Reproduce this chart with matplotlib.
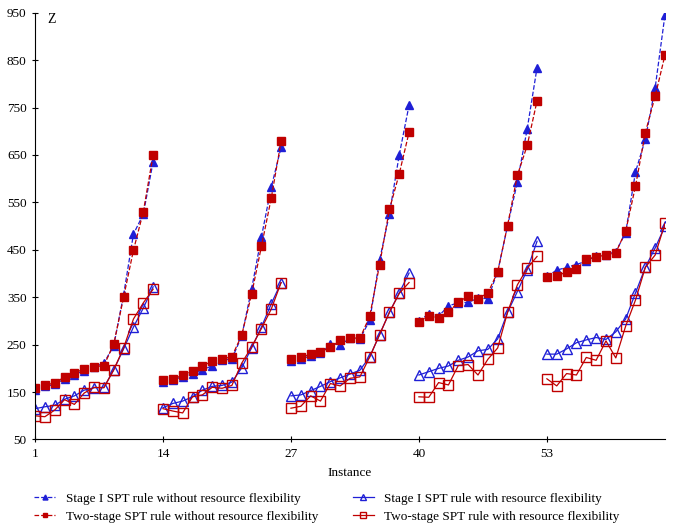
import numpy as np
import matplotlib
matplotlib.use('Agg')
import matplotlib.pyplot as plt

plt.rcParams['font.family'] = ['Liberation Serif', 'DejaVu Serif']

# instancias 1..65, em 5 grupos de 13
instancias = np.arange(1, 66)
grupos = [(1, 13), (14, 26), (27, 39), (40, 52), (53, 65)]

# Stage I SPT rule without resource flexibility
stage1_sem = [155, 162, 166, 178, 187, 195, 203, 211, 248, 355, 483, 525, 636,
              172, 176, 182, 188, 196, 206, 217, 220, 268, 367, 477, 582, 666,
              216, 220, 226, 232, 252, 250, 263, 262, 301, 428, 525, 650, 755,
              300, 315, 310, 332, 338, 339, 348, 347, 404, 500, 593, 705, 834,
              394, 407, 413, 419, 426, 437, 440, 446, 486, 614, 683, 792, 946]

# Two-stage SPT rule without resource flexibility
duas_sem = [159, 165, 169, 182, 190, 199, 203, 206, 251, 350, 449, 530, 650,
            175, 178, 185, 194, 205, 215, 219, 225, 270, 356, 457, 559, 679,
            219, 223, 230, 235, 244, 259, 265, 263, 310, 418, 535, 610, 698,
            297, 311, 306, 318, 340, 352, 347, 359, 403, 501, 607, 670, 764,
            393, 394, 404, 409, 430, 435, 439, 444, 489, 584, 697, 774, 861]

# Stage I SPT rule with resource flexibility
stage1_com = [115, 119, 122, 135, 142, 154, 159, 160, 197, 241, 287, 327, 372,
              117, 126, 131, 140, 154, 162, 164, 171, 201, 243, 287, 336, 381,
              142, 144, 153, 162, 172, 180, 188, 196, 224, 271, 318, 359, 401,
              186, 193, 200, 205, 217, 224, 237, 240, 262, 318, 362, 408, 468,
              230, 230, 241, 254, 260, 265, 261, 277, 304, 359, 413, 454, 500]

# Two-stage SPT rule with resource flexibility
duas_com = [100, 98, 112, 134, 124, 148, 160, 159, 197, 243, 304, 338, 367,
            115, 110, 106, 140, 144, 160, 158, 164, 211, 245, 284, 325, 381,
            116, 120, 142, 131, 168, 163, 179, 182, 224, 271, 318, 358, 381,
            140, 139, 170, 165, 206, 208, 186, 219, 243, 318, 376, 411, 436,
            178, 163, 189, 186, 223, 217, 258, 222, 289, 344, 413, 439, 506]

azul = '#1f1fd6'
vermelho = '#c00000'
fs = 9.5

fig = plt.figure(figsize=(6.77, 5.29), dpi=100)
ax = fig.add_axes([0.0517, 0.1692, 0.9306, 0.8068])

series = [
    (stage1_sem, dict(color=azul, ls='--', marker='^', mfc=azul, mec=azul, ms=6),
     'Stage I SPT rule without resource flexibility'),
    (duas_sem, dict(color=vermelho, ls='--', marker='s', mfc=vermelho, mec=vermelho, ms=6),
     'Two-stage SPT rule without resource flexibility'),
    (stage1_com, dict(color=azul, ls='-', marker='^', mfc='none', mec=azul, ms=6.5),
     'Stage I SPT rule with resource flexibility'),
    (duas_com, dict(color=vermelho, ls='-', marker='s', mfc='none', mec=vermelho, ms=6.5),
     'Two-stage SPT rule with resource flexibility'),
]

handles = []
for valores, estilo, nome in series:
    valores = np.array(valores)
    for k, (a, b) in enumerate(grupos):
        linha, = ax.plot(instancias[a - 1:b], valores[a - 1:b], lw=0.9,
                         label=nome if k == 0 else None, **estilo)
        if k == 0:
            handles.append(linha)

ax.set_xlim(1, 65)
ax.set_ylim(50, 950)
ax.set_xticks([1, 14, 27, 40, 53])
ax.set_yticks(np.arange(50, 951, 100))
ax.tick_params(direction='inout', length=5, labelsize=fs)
ax.spines['top'].set_visible(False)
ax.spines['right'].set_visible(False)
ax.set_xlabel('Instance', fontsize=fs, labelpad=5)
ax.text(0.02, 1.0, 'Z', transform=ax.transAxes, fontsize=fs + 0.5, va='top')

ax.legend(handles=handles, ncol=2, loc='upper left', bbox_to_anchor=(-0.02, -0.097),
          frameon=False, fontsize=fs, handlelength=1.6, columnspacing=2.6,
          labelspacing=0.4, markerscale=0.6)

fig.savefig('out.png', dpi=100)
